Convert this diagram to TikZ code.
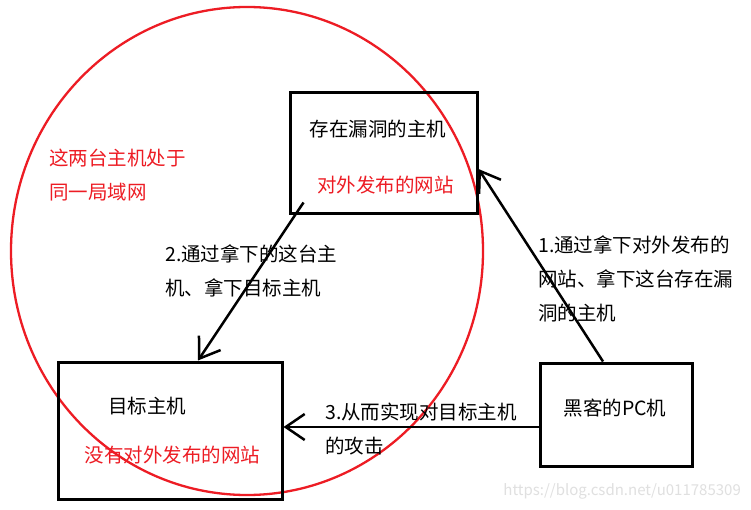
\documentclass[tikz,border=0pt]{standalone}
\usepackage{fontspec}
\setmainfont{Noto Sans CJK SC}
\usepackage{tikz}
\usetikzlibrary{arrows.meta,positioning,shapes,calc}
\definecolor{paintred}{RGB}{237,28,36}

\begin{document}
\begin{tikzpicture}[x=1pt, y=-1pt, line join=miter,
  host node/.style={rectangle,draw,line width=3pt,inner sep=0pt},
  txt/.style={font=\fontsize{19.5}{34}\selectfont,inner sep=0pt},
  note/.style={txt,align=left,anchor=west},
  hit/.style={line width=2.5pt,-{Straight Barb[length=19pt,width=26pt,line width=2.5pt]}}]
\useasboundingbox[fill=white] (0,0) rectangle (751,510);
% the local network
\draw[paintred,line width=2.3pt] (247,251) ellipse (236pt and 244pt);
\begin{scope}
\node[host node,minimum width=187pt,minimum height=121pt] (vuln) at (383.5,153.5) {};
\node[host node,minimum width=224pt,minimum height=137pt] (target) at (170,430.5) {};
\node[host node,minimum width=152pt,minimum height=103pt] (pc) at (616,414.5) {};
\end{scope}
\begin{scope}
\node[txt] (vulnA) at (378,129) {存在漏洞的主机};
\node[txt,paintred] (vulnB) at (385.5,185) {对外发布的网站};
\node[txt] (targetA) at (147,406) {目标主机};
\node[txt,paintred] (targetB) at (172.5,455) {没有对外发布的网站};
\node[txt] (pcA) at (615,408) {黑客的PC机};
\node[note,paintred] (lan) at (49,175.5) {这两台主机处于\\同一局域网};
\node[note] (step1) at (538,279) {1.通过拿下对外发布的\\网站、拿下这台存在漏\\洞的主机};
\node[note] (step2) at (165,270.5) {2.通过拿下的这台主\\机、拿下目标主机};
\node[note] (step3) at (325,429) {3.从而实现对目标主机\\的攻击};
\node[anchor=east,inner sep=0pt,font=\fontsize{15}{15}\selectfont,black!12] (mark) at (741,491) {https://blog.csdn.net/u011785309};
\end{scope}
\begin{scope}
\draw[hit] ([xshift=-13pt]pc.north) -- ([yshift=-15.5pt]vuln.east);
\draw[hit] ([xshift=15pt,yshift=13pt]vuln.south west) -- ([xshift=28pt]target.north);
\draw[hit] ([yshift=-12.5pt]pc.west) -- ([yshift=3.5pt]target.east);
\end{scope}
\end{tikzpicture}
\end{document}
